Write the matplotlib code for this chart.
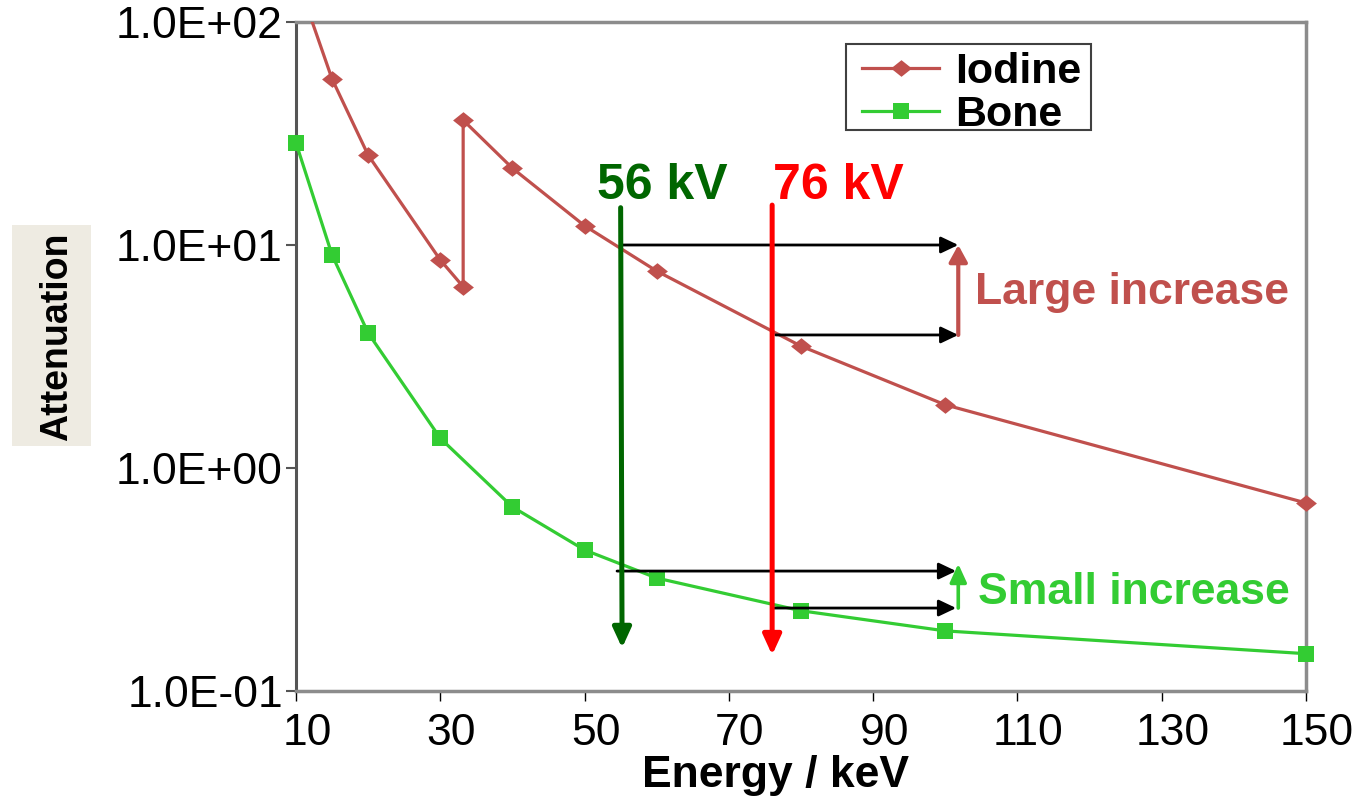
import matplotlib
matplotlib.use('Agg')
import matplotlib.pyplot as plt
import matplotlib.transforms as mtransforms
from matplotlib.lines import Line2D
from matplotlib.patches import Rectangle
from matplotlib.path import Path
from matplotlib.ticker import FixedLocator, FixedFormatter, NullLocator
import numpy as np

plt.rcParams['font.family'] = ['Liberation Sans', 'DejaVu Sans']

# Mass attenuation vs photon energy (K-edge of iodine at 33.17 keV)
energy_iodine = [10, 15, 20, 30, 33.17, 33.17, 40, 50, 60, 80, 100, 150]
atten_iodine = [162, 55.5, 25.3, 8.57, 6.5, 36.3, 22.1, 12.2, 7.64, 3.52, 1.92, 0.697]
energy_bone = [10, 15, 20, 30, 40, 50, 60, 80, 100, 150]
atten_bone = [28.7, 9.02, 4.03, 1.36, 0.669, 0.429, 0.321, 0.229, 0.186, 0.147]

series_names = ['Iodine', 'Bone']
x_ticks = [10, 30, 50, 70, 90, 110, 130, 150]
y_ticks = [0.1, 1, 10, 100]
y_tick_labels = ['1.0E-01', '1.0E+00', '1.0E+01', '1.0E+02']

kv_positions = [55, 76]
kv_labels = ['56 kV', '76 kV']
iodine_levels = [10.0, 3.95]
bone_levels = [0.345, 0.2355]
compare_x = 101.8

IODINE = '#C0504D'
BONE = '#33CC33'
DARK_GREEN = '#006600'
RED = '#FF0000'

fig = plt.figure(figsize=(13.63, 7.99), dpi=100)
ax = fig.add_axes([296 / 1363, 1 - 691 / 799, 1010 / 1363, 669 / 799])
ax.set_yscale('log')
ax.set_xlim(10, 150)
ax.set_ylim(0.1, 100)

diamond = Path([(0, 1), (1.25, 0), (0, -1), (-1.25, 0), (0, 1)],
               [Path.MOVETO, Path.LINETO, Path.LINETO, Path.LINETO, Path.CLOSEPOLY])

ei = np.array(energy_iodine)
ai = np.array(atten_iodine)
eb = np.array(energy_bone)
ab = np.array(atten_bone)

# Curves (clipped to the plot box) and markers (drawn over the frame)
ax.plot(ei, ai, color=IODINE, lw=2.3, zorder=3, solid_joinstyle='round')
vis = ai <= 100
ax.plot(ei[vis], ai[vis], ls='none', marker=diamond, ms=15, color=IODINE,
        mew=0, zorder=4, clip_on=False)
ax.plot(eb, ab, color=BONE, lw=2.3, zorder=3, solid_joinstyle='round')
ax.plot(eb, ab, ls='none', marker='s', ms=11.5, color=BONE, mew=0,
        zorder=4, clip_on=False)

# Axes styling
for side in ['top', 'right', 'bottom']:
    ax.spines[side].set_color('#8c8c8c')
    ax.spines[side].set_linewidth(2.5)
ax.spines['left'].set_color('#555555')
ax.spines['left'].set_linewidth(2.2)

ax.xaxis.set_major_locator(FixedLocator(x_ticks))
ax.xaxis.set_minor_locator(NullLocator())
ax.yaxis.set_major_locator(FixedLocator(y_ticks))
ax.yaxis.set_major_formatter(FixedFormatter(y_tick_labels))
ax.yaxis.set_minor_locator(NullLocator())
ax.tick_params(axis='x', direction='out', length=7.5, width=1, color='black',
               labelsize=32, pad=8)
ax.tick_params(axis='y', direction='out', length=7.5, width=1.5, color='#555555',
               labelsize=32, pad=2)
shift = mtransforms.ScaledTranslation(11 / 100, 0, fig.dpi_scale_trans)
for lab in ax.get_xticklabels():
    lab.set_transform(lab.get_transform() + shift)


def arrow(x0, y0, x1, y1, color, lw, hl, hw, z=5):
    ax.annotate('', xy=(x1, y1), xytext=(x0, y0),
                arrowprops=dict(arrowstyle=f'-|>,head_length={hl},head_width={hw}',
                                color=color, lw=lw, shrinkA=0, shrinkB=0,
                                mutation_scale=1),
                annotation_clip=False, zorder=z)


# Horizontal read-off arrows
arrow(kv_positions[0], iodine_levels[0], compare_x, iodine_levels[0], 'black', 2.0, 10.5, 5)
arrow(kv_positions[1] + 0.5, iodine_levels[1], compare_x, iodine_levels[1], 'black', 2.0, 10.5, 5)
arrow(kv_positions[0] - 0.5, bone_levels[0], compare_x - 0.3, bone_levels[0], 'black', 2.0, 10.5, 5)
arrow(kv_positions[1] + 0.3, bone_levels[1], compare_x - 0.3, bone_levels[1], 'black', 2.0, 10.5, 5)

# Vertical tube-voltage arrows
arrow(kv_positions[0], 14.7, kv_positions[0] + 0.2, 0.156, DARK_GREEN, 3.6, 12, 5.5, z=6)
arrow(kv_positions[1], 15.1, kv_positions[1], 0.145, RED, 3.6, 12, 5.5, z=6)

# Increase arrows
arrow(compare_x, iodine_levels[1], compare_x, iodine_levels[0], IODINE, 3.0, 10, 5.5)
arrow(compare_x, bone_levels[1], compare_x, 0.372, BONE, 2.6, 11, 5.0)

ax.text(51.7, 18.4, kv_labels[0], color=DARK_GREEN, fontsize=36,
        fontweight='bold', ha='left', va='center')
ax.text(76.1, 18.4, kv_labels[1], color=RED, fontsize=36,
        fontweight='bold', ha='left', va='center')
ax.text(104.1, 6.1, 'Large increase', color=IODINE, fontsize=32,
        fontweight='bold', ha='left', va='center')
ax.text(104.5, 0.276, 'Small increase', color=BONE, fontsize=32,
        fontweight='bold', ha='left', va='center')

# Legend: entries without frame, plus a plain box around them
handles = [Line2D([], [], color=IODINE, lw=2.3, marker=diamond, ms=15, mew=0),
           Line2D([], [], color=BONE, lw=2.3, marker='s', ms=11.5, mew=0)]
leg = ax.legend(handles, series_names, loc='upper left',
                bbox_to_anchor=((846 - 296) / 1010, (691 - 36) / 669),
                borderaxespad=0, frameon=False,
                prop={'weight': 'bold', 'size': 31}, handlelength=1.8,
                handletextpad=0.37, borderpad=0.37, labelspacing=0.075)
leg.set_zorder(7)
ax.add_patch(Rectangle(((846 - 296) / 1010, (691 - 130) / 669), 245 / 1010,
                       86 / 669, transform=ax.transAxes, facecolor='white',
                       edgecolor='#404040', lw=1.5, zorder=6.5, clip_on=False))

# Axis titles
fig.patches.append(Rectangle((12 / 1363, 1 - 446 / 799), 79 / 1363, 221 / 799,
                             transform=fig.transFigure, facecolor='#EEEBE2',
                             edgecolor='none', zorder=0))
fig.text(57 / 1363, 1 - 337 / 799, 'Attenuation', rotation=90, fontsize=27,
         fontweight='bold', ha='center', va='center')
fig.text(776 / 1363, 1 - 775 / 799, 'Energy / keV', fontsize=32,
         fontweight='bold', ha='center', va='center')

fig.savefig('out.png', dpi=100)
